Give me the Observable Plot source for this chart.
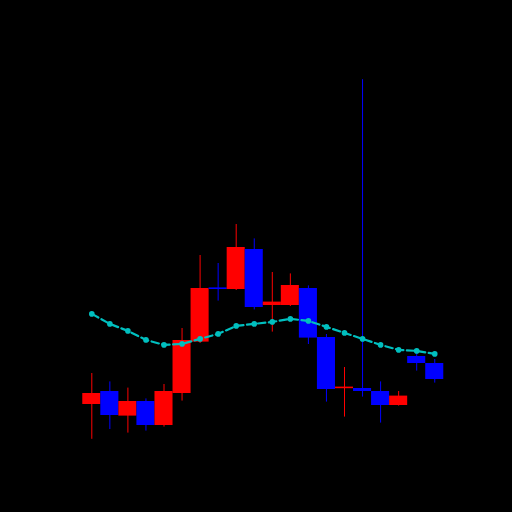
<!DOCTYPE html>
<html>
<head>
<meta charset="utf-8">
<script src="https://cdn.jsdelivr.net/npm/d3@7"></script>
<script src="https://cdn.jsdelivr.net/npm/@observablehq/plot@0.6"></script>
<style>
  html, body { margin: 0; padding: 0; background: #000; }
  #chart svg { display: block; }
</style>
</head>
<body>
<div id="chart"></div>
<script>
const opens  = [48.0, 54.5, 42.2, 49.5, 37.5, 53.5, 79.2, 106.3, 105.5, 125.5, 97.5, 97.5, 106.0, 81.5, 55.9, 56.0, 54.5, 47.5, 72.0, 68.5];
const closes = [53.5, 42.5, 49.5, 37.5, 54.5, 80.0, 106.0, 105.5, 126.5, 96.5, 99.2, 107.5, 81.2, 55.5, 56.7, 54.5, 47.5, 52.2, 68.5, 60.5];
const highs  = [63.5, 59.3, 56.2, 50.8, 58.0, 86.0, 122.5, 118.5, 138.0, 130.8, 114.0, 113.3, 107.3, 83.0, 66.5, 210.4, 59.3, 54.5, 73.5, 70.5];
const lows   = [30.6, 35.5, 33.7, 34.7, 36.7, 49.7, 78.5, 99.7, 105.0, 95.3, 84.2, 97.0, 78.0, 49.2, 41.7, 51.7, 38.7, 47.2, 64.7, 58.7];
const ma     = [93.3, 88.3, 84.8, 80.3, 77.8, 78.3, 80.8, 83.3, 87.3, 88.3, 89.3, 90.8, 89.8, 86.8, 83.8, 80.8, 77.8, 75.3, 74.8, 73.3];

const data = opens.map((o, i) => ({
  i, open: o, close: closes[i], high: highs[i], low: lows[i], ma: ma[i],
  up: closes[i] >= o
}));

const W = 512, H = 512;
const x0 = 91.3, dx = 18.05;
const xDomain = [-x0 / dx, (W - x0) / dx];
// value = (500 - py)/2
const yDomain = [(500 - H) / 2, 500 / 2];

const chart = Plot.plot({
  width: W, height: H,
  margin: 0,
  style: { background: "#000" },
  x: { type: "linear", domain: xDomain, axis: null },
  y: { type: "linear", domain: yDomain, axis: null },
  marks: [
    Plot.ruleX(data, {
      x: "i", y1: "low", y2: "high",
      stroke: d => d.up ? "#ff0000" : "#0000ff", strokeWidth: 1
    }),
    Plot.rect(data, {
      x1: d => d.i - 0.5, x2: d => d.i + 0.5,
      y1: "open", y2: "close",
      fill: d => d.up ? "#ff0000" : "#0000ff",
      inset: 0
    }),
    Plot.line(data, {
      x: "i", y: "ma", stroke: "#00bfbf", strokeWidth: 2.2,
      strokeDasharray: "7.5,3.5"
    }),
    Plot.dot(data, {
      x: "i", y: "ma", r: 2.8, fill: "#00bfbf", stroke: "none"
    })
  ]
});
document.getElementById("chart").appendChild(chart);
</script>
</body>
</html>
